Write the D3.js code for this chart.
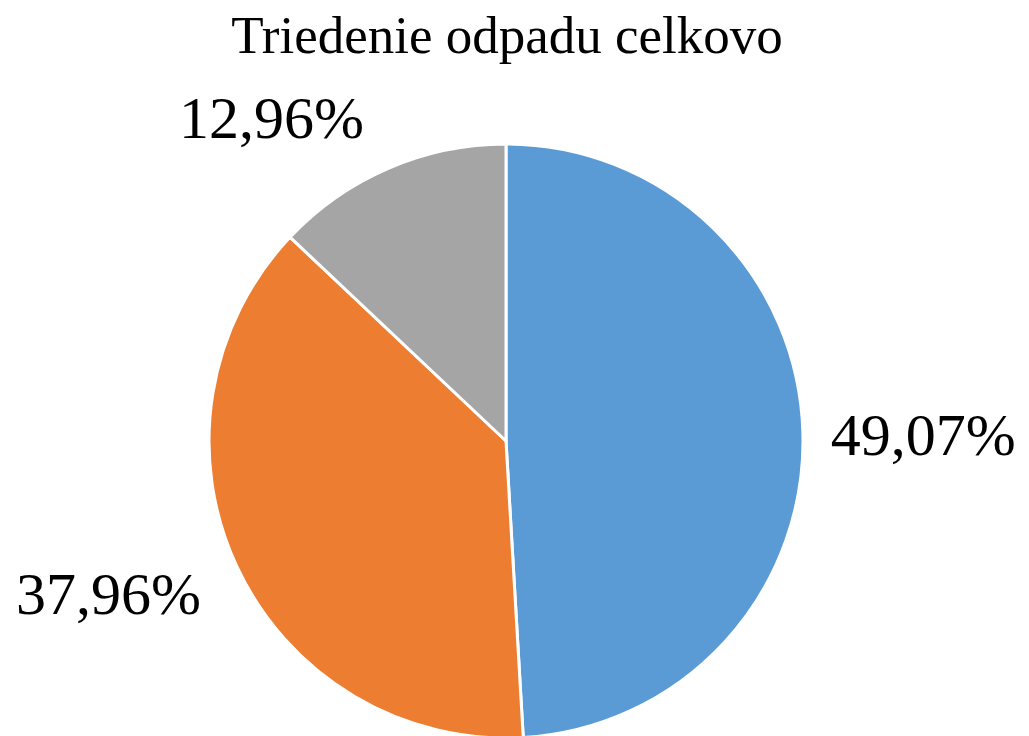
<!DOCTYPE html>
<html>
<head>
<meta charset="utf-8">
<script src="https://cdn.jsdelivr.net/npm/d3@7"></script>
<style>
  html, body { margin: 0; padding: 0; background: #fff; }
  svg { display: block; }
</style>
</head>
<body>
<svg id="chart"></svg>
<script>
/* Triedenie odpadu - kolacovy graf */
const categories = ['A', 'B', 'C']
const values = [49.07, 37.96, 12.96]
const colors = ['#5B9BD5', '#ED7D31', '#A5A5A5']
const title = 'Triedenie odpadu celkovo'
// posun popiskov (layout, nie data)
const labelNudge = [[2, 3], [-21, 7], [-70, -8]]

const width = 1029
const height = 736
const cx = 506
const cy = 441
const radius = 297
const labelPad = 26

const svg = d3.select('#chart')
    .attr('width', width)
    .attr('height', height)

svg.append('text')
    .attr('x', 507)
    .attr('y', 53)
    .attr('text-anchor', 'middle')
    .style('font-family', '"Liberation Serif", "Times New Roman", serif')
    .style('font-size', '53px')
    .text(title)

const pie = d3.pie()
    .sort(null)
    .value(d => d.value)

const data = categories.map((c, i) => ({ cat: c, value: values[i], i }))
const arcs = pie(data)

const arc = d3.arc()
    .innerRadius(0)
    .outerRadius(radius)

const g = svg.append('g')
    .attr('transform', `translate(${cx},${cy})`)

g.selectAll('path')
    .data(arcs)
    .enter()
    .append('path')
    .attr('d', arc)
    .attr('fill', d => colors[d.data.i])
    .attr('stroke', '#fff')
    .attr('stroke-width', 3)
    .attr('stroke-linejoin', 'round')

const fmt = v => v.toFixed(2).replace('.', ',') + '%'

const labels = g.selectAll('text.lbl')
    .data(arcs)
    .enter()
    .append('text')
    .attr('class', 'lbl')
    .attr('text-anchor', 'middle')
    .style('font-family', '"Liberation Serif", "Times New Roman", serif')
    .style('font-size', '60px')
    .text(d => fmt(d.data.value))

labels.each(function (d) {
    const a = (d.startAngle + d.endAngle) / 2
    const s = Math.sin(a)
    const c = -Math.cos(a)
    const w = this.getComputedTextLength()
    const h = 42
    const n = labelNudge[d.data.i]
    const x = (radius + labelPad) * s + (w / 2) * s + n[0]
    const y = (radius + labelPad) * c + (h / 2) * c + n[1]
    d3.select(this)
        .attr('x', x)
        .attr('y', y + h / 2)
})
</script>
</body>
</html>
